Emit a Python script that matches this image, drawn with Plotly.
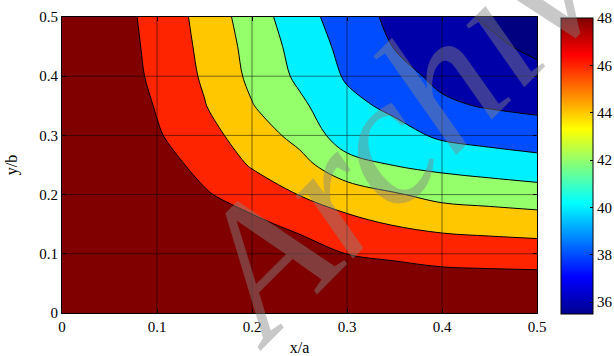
import plotly.graph_objects as go

# grid coordinates
x_vals = [0.0, 0.05, 0.10, 0.15, 0.20, 0.25, 0.30, 0.35, 0.40, 0.45, 0.50]
y_vals = [0.0, 0.05, 0.10, 0.15, 0.20, 0.25, 0.30, 0.35, 0.40, 0.45, 0.50]

# field values, one list per x column (bottom -> top)
col_x000 = [51, 51, 51, 51, 51, 51, 51, 51, 50.8, 50.7, 50.6]
col_x005 = [51, 51, 51, 51, 50.8, 50.4, 49.9, 49.6, 49.3, 49.15, 49.0]
col_x010 = [51, 51, 51, 50.8, 50.0, 48.85, 48.19, 47.86, 47.54, 47.4, 47.28]
col_x015 = [51, 50.5, 49.7, 48.9, 48.2, 47.41, 46.75, 46.09, 45.75, 45.55, 45.35]
col_x020 = [51, 51, 49.84, 48.47, 47.1, 45.83, 44.96, 44.09, 43.57, 43.33, 42.98]
col_x025 = [51, 50.56, 49.02, 47.48, 45.95, 44.61, 43.43, 42.38, 41.62, 41.27, 40.83]
col_x030 = [51, 49.41, 47.98, 46.59, 44.96, 42.76, 40.9, 40.52, 39.78, 39.39, 38.95]
col_x035 = [51, 49.29, 47.59, 45.9, 44.17, 41.95, 40.67, 39.58, 38.58, 37.93, 37.55]
col_x040 = [51, 48.95, 47.25, 45.47, 43.44, 41.47, 39.69, 38.28, 37.6, 37.09, 36.58]
col_x045 = [51, 48.88, 47.12, 45.25, 43.17, 41.10, 39.27, 37.85, 37.11, 36.37, 35.75]
col_x050 = [51, 48.84, 47.02, 45.04, 42.89, 40.74, 38.94, 37.56, 36.51, 35.6, 35.4]

columns = [col_x000, col_x005, col_x010, col_x015, col_x020, col_x025,
           col_x030, col_x035, col_x040, col_x045, col_x050]

# contour levels and colour limits
level_start = 36
level_end = 48
level_step = 2
c_min = 35.5
c_max = 48

# axis ticks
x_ticks = [0, 0.1, 0.2, 0.3, 0.4, 0.5]
x_ticktext = ["0", "0.1", "0.2", "0.3", "0.4", "0.5"]
y_ticks = [0, 0.1, 0.2, 0.3, 0.4, 0.5]
y_ticktext = ["0", "0.1", "0.2", "0.3", "0.4", "0.5"]
cb_ticks = [36, 38, 40, 42, 44, 46, 48]

# watermark
wm_text = "Archive"

z = [list(row) for row in zip(*columns)]

# band colours (matlab jet sampled at each level)
band_colors = ["rgb(0,0,128)", "rgb(0,0,168)", "rgb(0,77,255)", "rgb(0,240,255)",
               "rgb(148,255,107)", "rgb(255,199,0)", "rgb(255,36,0)", "rgb(128,0,0)"]
n = len(band_colors) - 1
band_scale = [[i / n, c] for i, c in enumerate(band_colors)]

jet = [[0.0, "rgb(0,0,143)"], [0.125, "rgb(0,0,255)"], [0.375, "rgb(0,255,255)"],
       [0.625, "rgb(255,255,0)"], [0.875, "rgb(255,0,0)"], [1.0, "rgb(128,0,0)"]]

font_family = "Liberation Serif, Times New Roman, serif"

fig = go.Figure()
fig.add_trace(go.Contour(
    x=x_vals, y=y_vals, z=z,
    autocontour=False,
    contours=dict(start=level_start, end=level_end, size=level_step, coloring="fill",
                  showlines=True),
    colorscale=band_scale,
    line=dict(color="black", width=1, smoothing=1.0),
    showscale=False,
    hoverinfo="skip",
))

fig.add_trace(go.Scatter(
    x=[0.25, 0.25], y=[0.25, 0.25], mode="markers",
    marker=dict(color=[c_min, c_max], cmin=c_min, cmax=c_max, colorscale=jet,
                size=1, opacity=0, showscale=True,
                colorbar=dict(
                    thickness=32, thicknessmode="pixels",
                    len=296, lenmode="pixels",
                    x=1.0505, xanchor="left", xpad=0,
                    y=0.4966, yanchor="middle", ypad=0,
                    outlinecolor="black", outlinewidth=1,
                    tickvals=cb_ticks, ticks="inside", ticklen=3, tickcolor="black",
                    tickfont=dict(family=font_family, size=15, color="black"),
                )),
    hoverinfo="skip", showlegend=False,
))

shapes = []
for v in x_ticks[1:-1]:
    shapes.append(dict(type="line", xref="x", yref="y", x0=v, x1=v, y0=0, y1=0.5,
                       layer="above", line=dict(color="rgba(0,0,0,0.5)", width=1)))
for v in y_ticks[1:-1]:
    shapes.append(dict(type="line", xref="x", yref="y", x0=0, x1=0.5, y0=v, y1=v,
                       layer="above", line=dict(color="rgba(0,0,0,0.5)", width=1)))

annotations = [dict(
    text=wm_text, xref="paper", yref="paper", x=0.755, y=0.71,
    xanchor="center", yanchor="middle", showarrow=False, textangle=-45,
    font=dict(family=font_family, size=185, color="rgba(133,133,133,0.45)",
              style="italic"),
)]

axis_common = dict(
    showgrid=False, zeroline=False, showline=True, linecolor="black", linewidth=1,
    mirror="ticks", ticks="inside", ticklen=4, tickcolor="black", automargin=False,
    tickfont=dict(family=font_family, size=15, color="black"),
)

fig.update_layout(
    width=614, height=356,
    margin=dict(l=62, r=77, t=17, b=43, autoexpand=False),
    paper_bgcolor="white", plot_bgcolor="white",
    showlegend=False,
    xaxis=dict(range=[0, 0.5], tickvals=x_ticks, ticktext=x_ticktext,
               title=dict(text="x/a", font=dict(family=font_family, size=16, color="black"),
                          standoff=9),
               **axis_common),
    yaxis=dict(range=[0, 0.5], tickvals=y_ticks, ticktext=y_ticktext,
               title=dict(text="y/b", font=dict(family=font_family, size=16, color="black"),
                          standoff=17),
               **axis_common),
    shapes=shapes,
    annotations=annotations,
)

# remove the default page margin so the figure starts at the window corner
fig.write_html("out.html",
               config={"displayModeBar": False},
               post_script="document.body.style.margin='0';document.body.style.overflow='hidden';")
